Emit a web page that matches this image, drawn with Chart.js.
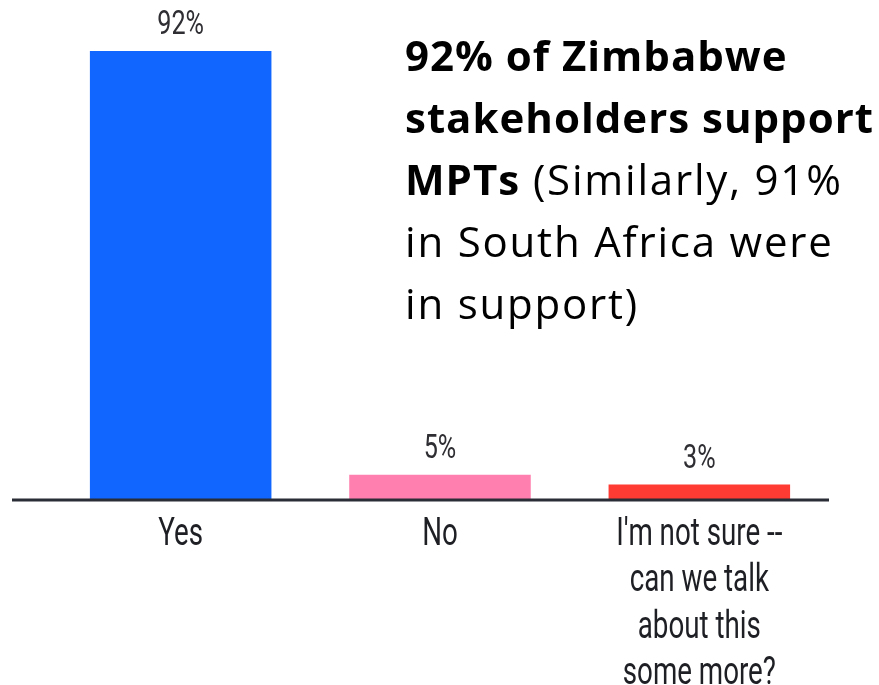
<!DOCTYPE html>
<html>
<head>
<meta charset="utf-8">
<script src="https://cdn.jsdelivr.net/npm/chart.js@4"></script>
<style>
  html, body { margin: 0; padding: 0; background: #fff; overflow: hidden; }
  #wrap { position: relative; width: 879px; height: 685px; }
  #chart { position: absolute; left: 0; top: 0; }
  #note {
    position: absolute; left: 405px; top: 24px; width: 474px;
    font-family: 'Open Sans', sans-serif; font-size: 42px; line-height: 62px;
    color: #000; white-space: nowrap; letter-spacing: 1.8px;
  }
  #note b { font-weight: 700; letter-spacing: 1px; }
</style>
</head>
<body>
<div id="wrap">
  <canvas id="chart" width="879" height="685"></canvas>
  <div id="note"><b>92% of Zimbabwe<br>stakeholders support<br>MPTs</b> (Similarly, 91%<br>in South Africa were<br>in support)</div>
</div>
<script>
const ANSWERS = [
  ['Yes'],
  ['No'],
  ["I'm not sure --", 'can we talk', 'about this', 'some more?'],
];
const SHARES = [92, 5, 3];
const BAR_COLORS = ['#1166FF', '#FF80AE', '#FF3B33'];

const LABEL_FONT = "Roboto, 'DejaVu Sans', sans-serif";

// draw text squeezed horizontally, the poll font is very narrow
function narrowText(ctx, text, x, y, squeeze) {
  ctx.save();
  ctx.translate(x, y);
  ctx.scale(squeeze, 1);
  ctx.fillText(text, 0, 0);
  ctx.restore();
}

// percentages over the bars, answer labels under them, and the baseline
const barExtras = {
  id: 'barExtras',
  afterDraw(chart) {
    const { ctx, chartArea, scales } = chart;
    const meta = chart.getDatasetMeta(0);
    const y0 = scales.y.getPixelForValue(0);
    ctx.save();
    ctx.textAlign = 'center';
    ctx.textBaseline = 'middle';

    ctx.font = '34px ' + LABEL_FONT;
    ctx.fillStyle = '#2E2E33';
    meta.data.forEach((bar, i) => {
      narrowText(ctx, SHARES[i] + '%', bar.x, bar.y - 25, 0.74);
    });

    ctx.font = '38px ' + LABEL_FONT;
    ctx.fillStyle = '#1E1F24';
    ANSWERS.forEach((lines, i) => {
      const x = scales.x.getPixelForTick(i);
      lines.forEach((line, k) => {
        narrowText(ctx, line, x, y0 + 36 + k * 46.6, 0.73);
      });
    });

    ctx.strokeStyle = '#2B2D36';
    ctx.lineWidth = 3;
    ctx.beginPath();
    ctx.moveTo(12, y0 + 1);
    ctx.lineTo(chartArea.right, y0 + 1);
    ctx.stroke();
    ctx.restore();
  },
};

new Chart(document.getElementById('chart'), {
  type: 'bar',
  data: {
    labels: ANSWERS,
    datasets: [{
      data: SHARES,
      backgroundColor: BAR_COLORS,
      borderWidth: 0,
      barPercentage: 0.7,
      categoryPercentage: 1,
    }],
  },
  options: {
    responsive: false,
    animation: false,
    layout: { padding: { left: 51, right: 50, top: 12, bottom: 178 } },
    plugins: { legend: { display: false }, tooltip: { enabled: false } },
    scales: {
      x: {
        grid: { display: false },
        border: { display: false },
        ticks: { display: false },
      },
      y: {
        display: false,
        min: 0,
        max: 100,
      },
    },
  },
  plugins: [barExtras],
});
</script>
</body>
</html>
